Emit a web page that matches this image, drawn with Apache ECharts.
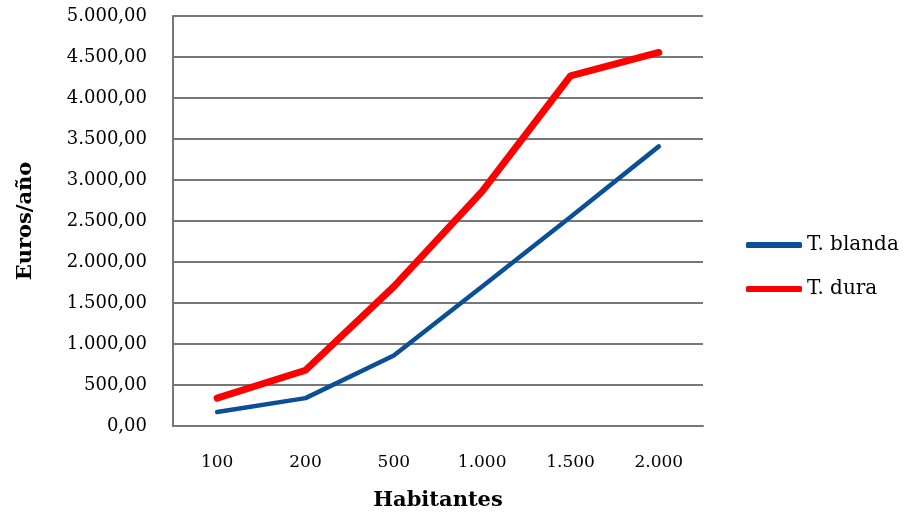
<!DOCTYPE html>
<html>
<head>
<meta charset="utf-8">
<script src="https://cdn.jsdelivr.net/npm/echarts@6/dist/echarts.min.js"></script>
<style>
  html, body { margin: 0; padding: 0; background: #fff; }
  #main { width: 922px; height: 512px; }
</style>
</head>
<body>
<div id="main"></div>
<script>
// datos
var habitantes = ["100", "200", "500", "1.000", "1.500", "2.000"];
var blanda = [170, 340, 860, 1700, 2550, 3410];
var dura = [340, 680, 1700, 2860, 4270, 4555];

function fmtEuro(v) {
  var s = Math.round(v).toString().replace(/\B(?=(\d{3})+(?!\d))/g, ".");
  return s + ",00";
}

var chart = echarts.init(document.getElementById("main"));
var font = "'DejaVu Serif', 'Liberation Serif', serif";

var option = {
  backgroundColor: "#fff",
  animation: false,
  textStyle: { fontFamily: font },
  grid: { left: 173, right: 219, top: 16, bottom: 86, outerBoundsMode: "none", containLabel: false },
  legend: {
    orient: "vertical",
    left: 741,
    top: 230,
    itemWidth: 56,
    itemHeight: 6,
    itemGap: 24,
    icon: "roundRect",
    textStyle: { fontFamily: font, fontSize: 20, color: "#000" },
    data: ["T. blanda", "T. dura"]
  },
  xAxis: {
    type: "category",
    data: habitantes,
    name: "Habitantes",
    nameLocation: "middle",
    nameGap: 64,
    nameTextStyle: { fontFamily: font, fontSize: 21, fontWeight: "bold", color: "#000" },
    axisLine: { lineStyle: { color: "#777", width: 2 } },
    axisTick: { show: false },
    axisLabel: { margin: 28, fontSize: 17, color: "#000", fontFamily: font }
  },
  yAxis: {
    type: "value",
    min: 0,
    max: 5000,
    interval: 500,
    name: "Euros/año",
    nameLocation: "middle",
    nameGap: 137,
    nameRotate: 90,
    nameTextStyle: { fontFamily: font, fontSize: 21, fontWeight: "bold", color: "#000" },
    axisLine: { show: true, lineStyle: { color: "#777", width: 2 } },
    axisTick: { show: false },
    splitLine: { lineStyle: { color: "#777", width: 2 } },
    axisLabel: { margin: 26, fontSize: 18, color: "#000", fontFamily: font, formatter: fmtEuro }
  },
  series: [
    {
      name: "T. blanda",
      type: "line",
      data: blanda,
      symbol: "none",
      color: "#0b4f96",
      lineStyle: { width: 4.5, color: "#0b4f96", cap: "round", join: "round" }
    },
    {
      name: "T. dura",
      type: "line",
      data: dura,
      symbol: "none",
      color: "#ff0000",
      lineStyle: { width: 7, color: "#ff0000", cap: "round", join: "round" }
    }
  ]
};

chart.setOption(option);
</script>
</body>
</html>
